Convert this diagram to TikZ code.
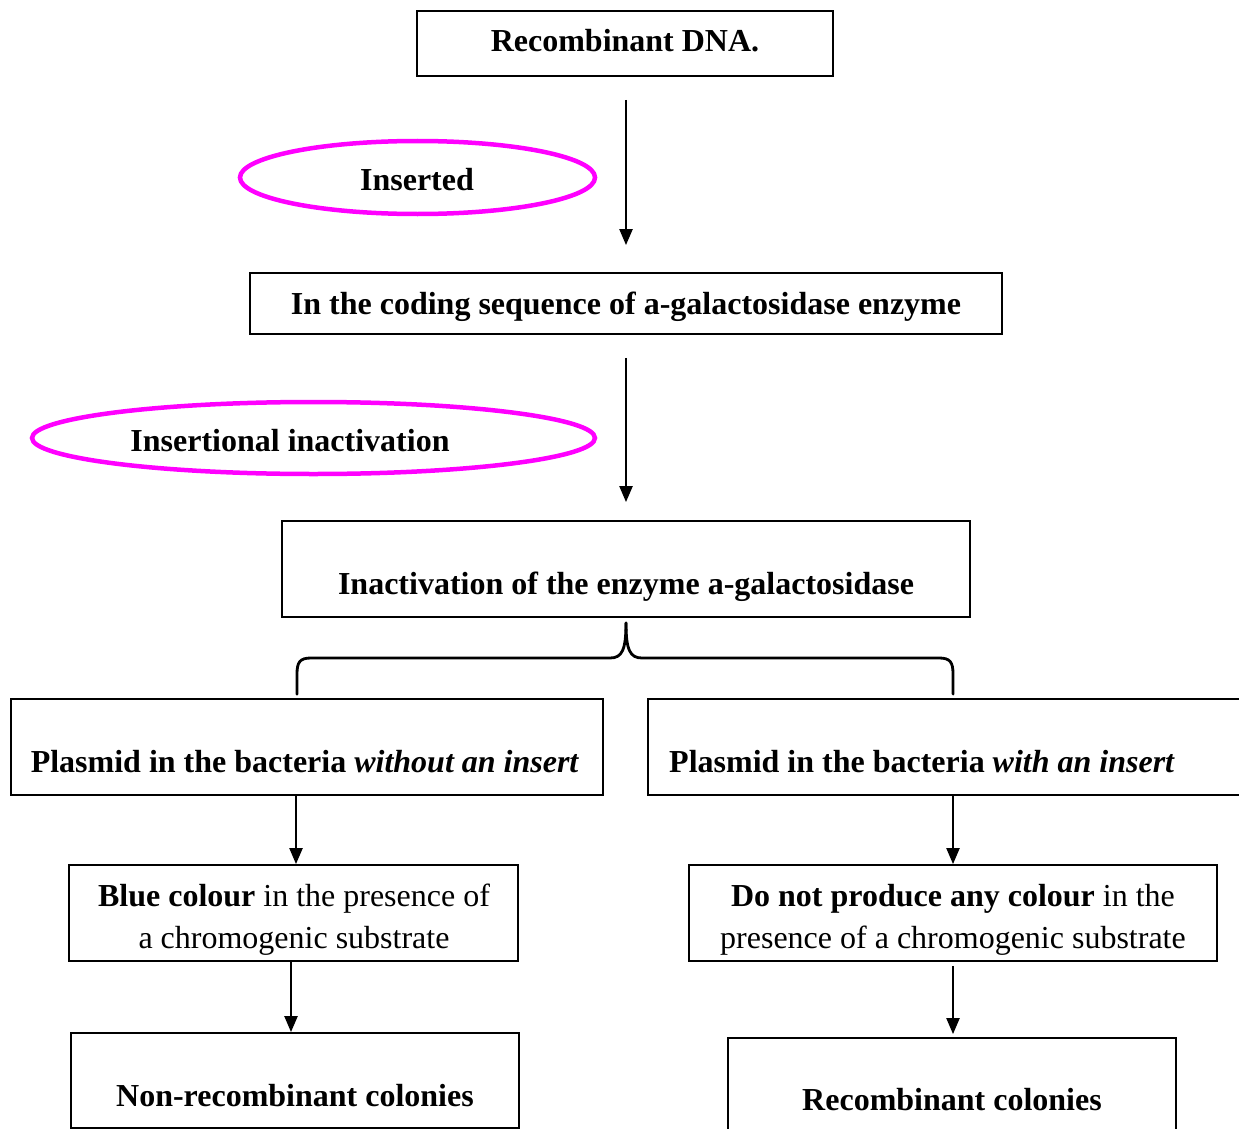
\documentclass[tikz,border=0pt]{standalone}
\usepackage{fontspec}
\setmainfont{Liberation Serif}
\usetikzlibrary{arrows.meta,shapes.geometric}
\definecolor{pinkline}{HTML}{FF00FF}
\begin{document}
\begin{tikzpicture}[x=1pt,y=-1pt,
  box/.style={draw, line width=1.8pt, inner sep=0pt},
  oval/.style={draw=pinkline, ellipse, line width=4.5pt, inner sep=0pt},
  txt/.style={anchor=base, inner sep=0pt, font=\fontsize{32}{42}\selectfont\bfseries},
  ntxt/.style={anchor=base, inner sep=0pt, font=\fontsize{32}{42}\selectfont},
  arr/.style={line width=2.2pt, -{Triangle[length=16pt,width=13pt]}},
  brace/.style={line width=2.8pt, line cap=round}]
\clip (0,0) rectangle (1239,1129);
\fill[white] (0,0) rectangle (1239,1129);

% boxes
\node[box, minimum width=416pt, minimum height=65pt] (b1) at (625,43.5) {};
\node[oval, minimum width=355pt, minimum height=73pt] (e1) at (417.5,177.5) {};
\node[box, minimum width=752pt, minimum height=61pt] (b2) at (626,303.5) {};
\node[oval, minimum width=563pt, minimum height=72pt] (e2) at (313.5,438) {};
\node[box, minimum width=688pt, minimum height=96pt] (b3) at (626,569) {};
\node[box, minimum width=592pt, minimum height=96pt] (b4) at (307,747) {};
\node[box, minimum width=602pt, minimum height=96pt] (b5) at (949,747) {};
\node[box, minimum width=449pt, minimum height=96pt] (b6) at (293.5,913) {};
\node[box, minimum width=448pt, minimum height=95pt] (b7) at (295,1080.5) {};
\node[box, minimum width=528pt, minimum height=96pt] (b8) at (953,913) {};
\node[box, minimum width=448pt, minimum height=97pt] (b9) at (952,1086.5) {};

% texts
\node[txt] (t1) at (625,52) {Recombinant DNA.};
\node[txt] (te1) at (417,190) {Inserted};
\node[txt] (t2) at (626,314) {In the coding sequence of a-galactosidase enzyme};
\node[txt] (te2) at (290,451) {Insertional inactivation};
\node[txt] (t3) at (626,594) {Inactivation of the enzyme a-galactosidase};
\node[txt] (t4) at (305,772) {Plasmid in the bacteria \textit{without an insert}};
\node[txt, anchor=base west] (t5) at (669,772) {Plasmid in the bacteria \textit{with an insert}};
\node[ntxt] (t6) at (294,906) {\begin{tabular}[t]{@{}c@{}}\textbf{Blue colour} in the presence of\\ a chromogenic substrate\end{tabular}};
\node[txt] (t7) at (295,1106) {Non-recombinant colonies};
\node[ntxt] (t8) at (953,906) {\begin{tabular}[t]{@{}c@{}}\textbf{Do not produce any colour} in the\\ presence of a chromogenic substrate\end{tabular}};
\node[txt] (t9) at (952,1110) {Recombinant colonies};

% arrows
\draw[arr] ([yshift=-23pt]b1.south -| b2.north) -- ([yshift=27pt]b2.north);
\draw[arr] ([yshift=-23pt]b2.south) -- ([yshift=18pt]b3.north);
\draw[arr] (b4.south -| 296,0) -- (b6.north -| 296,0);
\draw[arr] (b6.south -| 291,0) -- (b7.north -| 291,0);
\draw[arr] (b8.north |- b5.south) -- (b8.north);
\draw[arr] ([yshift=-4pt]b8.south) -- ([yshift=3pt]b8.south |- b9.north);

% brace
\coordinate (tip) at ([yshift=-5pt]b3.south);
\coordinate (bl) at ([yshift=4pt]b4.north -| 297,0);
\coordinate (br) at ([yshift=4pt]b5.north -| 953,0);
\draw[brace] (tip) .. controls (626,650) and (622,658) .. (610,658) -- (311,658)
  .. controls (300,658) and (297,662) .. (297,674) -- (bl);
\draw[brace] (tip) .. controls (626,650) and (630,658) .. (642,658) -- (939,658)
  .. controls (950,658) and (953,662) .. (953,674) -- (br);
\end{tikzpicture}
\end{document}
